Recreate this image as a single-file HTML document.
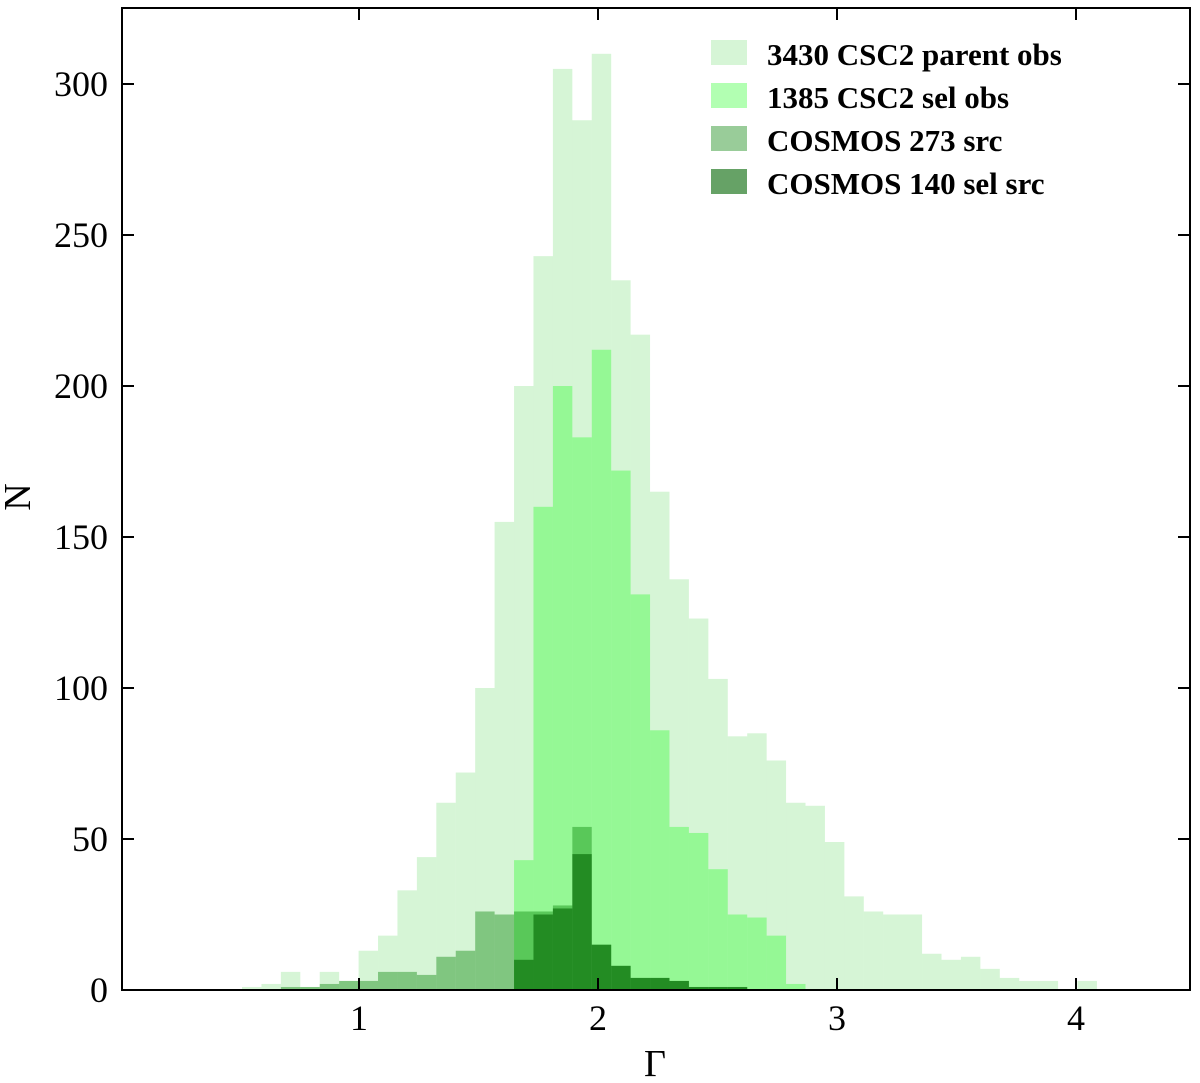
<!DOCTYPE html>
<html><head><meta charset="utf-8"><style>
html,body{margin:0;padding:0;background:#fff;}
svg{display:block;font-family:"Liberation Serif",serif;}
</style></head><body>
<svg id="chart" width="1200" height="1083" viewBox="0 0 1200 1083" xmlns="http://www.w3.org/2000/svg">
<g id="bars"></g>
<g id="axes"></g>
<g id="legend"></g>
</svg>
<script>
const binStart = 0.5105;
const binWidth = 0.0813;
const parentCounts = [1,2,6,1,6,3,13,18,33,44,62,72,100,155,200,243,305,288,310,235,217,165,136,123,103,84,85,76,62,61,49,31,26,25,25,12,10,11,7,4,3,3,0,3];
const selCounts = [0,0,0,0,0,0,0,0,0,0,0,0,0,0,43,160,200,183,212,172,131,86,54,52,40,25,24,18,2,0,0,0,0,0,0,0,0,0,0,0,0,0,0,0];
const cosmosCounts = [0,0,1,1,2,3,3,6,6,5,11,13,26,25,26,26,28,54,15,8,4,4,3,1,1,1,0,0,0,0,0,0,0,0,0,0,0,0,0,0,0,0,0,0];
const cosmosSelCounts = [0,0,0,0,0,0,0,0,0,0,0,0,0,0,10,25,27,45,15,8,4,4,3,1,1,1,0,0,0,0,0,0,0,0,0,0,0,0,0,0,0,0,0,0];
const xTicks = [1,2,3,4];
const yTicks = [0,50,100,150,200,250,300];
const legendLabels = ["3430 CSC2 parent obs","1385 CSC2 sel obs","COSMOS 273 src","COSMOS 140 sel src"];

const L=122,R=1190,T=8,B=990;
const xs = v => 359 + (v-1)*239;
const ys = v => 990 - v*3.02;
const NS="http://www.w3.org/2000/svg";
function mk(tag, attrs, parent){const e=document.createElementNS(NS,tag);for(const k in attrs)e.setAttribute(k,attrs[k]);parent.appendChild(e);return e;}

const series=[
 {data:parentCounts, fill:"rgb(50,205,50)", op:0.2, name:"parent-obs"},
 {data:selCounts, fill:"rgb(0,255,0)", op:0.3, name:"sel-obs"},
 {data:cosmosCounts, fill:"rgb(0,128,0)", op:0.4, name:"cosmos-src"},
 {data:cosmosSelCounts, fill:"rgb(0,100,0)", op:0.6, name:"cosmos-sel-src"}
];
const bars=document.getElementById('bars');
series.forEach(s=>{
  const g=mk('g',{},bars);
  
  
  s.data.forEach((c,i)=>{
    if(c<=0) return;
    const x0=xs(binStart+i*binWidth), x1=xs(binStart+(i+1)*binWidth);
    const r=mk('rect',{x:x0,y:ys(c),width:x1-x0,height:ys(0)-ys(c),fill:s.fill,'fill-opacity':s.op},g);
    
    
  });
});

const axes=document.getElementById('axes');
const frame=mk('rect',{x:L,y:T,width:R-L,height:B-T,fill:'none',stroke:'#000','stroke-width':2},axes);


xTicks.forEach(t=>{
  const x=xs(t);
  mk('line',{x1:x,x2:x,y1:B,y2:B-12,stroke:'#000','stroke-width':2},axes);
  mk('line',{x1:x,x2:x,y1:T,y2:T+12,stroke:'#000','stroke-width':2},axes);
  const tx=mk('text',{x:x,y:1030,'font-size':36,'text-anchor':'middle',fill:'#000'},axes);
  tx.textContent=t;
  
  
});
yTicks.forEach(t=>{
  const y=ys(t);
  mk('line',{x1:L,x2:L+12,y1:y,y2:y,stroke:'#000','stroke-width':2},axes);
  mk('line',{x1:R,x2:R-12,y1:y,y2:y,stroke:'#000','stroke-width':2},axes);
  const tx=mk('text',{x:108,y:y+12,'font-size':36,'text-anchor':'end',fill:'#000'},axes);
  tx.textContent=t;
  
  
});
const xl=mk('text',{x:655,y:1076,'font-size':38,'text-anchor':'middle',fill:'#000'},axes);
xl.textContent='Γ';


const yl=mk('text',{x:0,y:0,'font-size':38,'text-anchor':'middle',fill:'#000',transform:'translate(30,497) rotate(-90)'},axes);
yl.textContent='N';



const legend=document.getElementById('legend');
legendLabels.forEach((lab,i)=>{
  const y0=40+i*43;
  const g=mk('g',{},legend);
  
  
  mk('rect',{x:711,y:y0,width:36,height:25,fill:series[i].fill,'fill-opacity':series[i].op},g);
  const tx=mk('text',{x:767,y:y0+25,'font-size':31,'font-weight':'bold',fill:'#000'},g);
  tx.textContent=lab;
});
</script>
</body></html>
